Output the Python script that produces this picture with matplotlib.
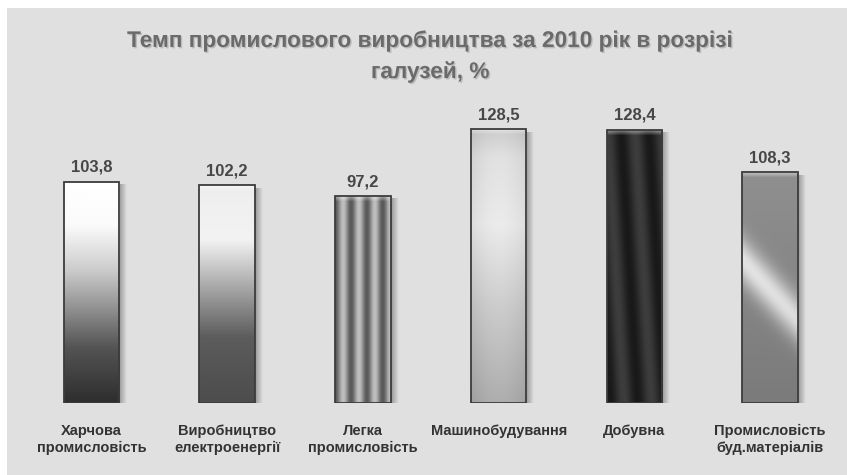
import numpy as np
import matplotlib
matplotlib.use('Agg')
import matplotlib.pyplot as plt
from matplotlib.patches import Rectangle
import matplotlib.patheffects as pe

# data: industrial production growth rate, 2010, %
categories = ['Харчова\nпромисловість', 'Виробництво\nелектроенергії',
              'Легка\nпромисловість', 'Машинобудування', 'Добувна',
              'Промисловість\nбуд.матеріалів']
values = [103.8, 102.2, 97.2, 128.5, 128.4, 108.3]
value_labels = ['103,8', '102,2', '97,2', '128,5', '128,4', '108,3']
title = 'Темп промислового виробництва за 2010 рік в розрізі\nгалузей, %'

font = ['Liberation Sans Narrow', 'Liberation Sans', 'DejaVu Sans']


# texture generators, u: left->right, v: top->bottom (both 0..1)
def tex_food(u, v):
    return np.interp(v, [0, 0.2, 0.4, 0.55, 0.75, 1], [1, 0.98, 0.8, 0.6, 0.33, 0.18])

def tex_energy(u, v):
    return np.interp(v, [0, 0.25, 0.4, 0.55, 0.7, 1], [0.93, 0.95, 0.75, 0.55, 0.36, 0.3])

def tex_light(u, v):
    return 0.55 + 0.2 * np.cos(2 * np.pi * 3.5 * u + np.pi) + 0 * v

def tex_machine(u, v):
    base = np.interp(v, [0, 0.1, 0.35, 0.65, 1], [0.8, 0.88, 0.92, 0.8, 0.68])
    return base - 0.06 * (np.abs(u - 0.5) * 2) ** 2

def tex_mining(u, v):
    return 0.1 + 0.14 * (0.5 + 0.5 * np.cos(2 * np.pi * 2 * (u - 0.3 * v)))

def tex_build(u, v):
    base = np.interp(v, [0, 1], [0.56, 0.48])
    band = np.exp(-((v - (0.38 + 0.26 * u)) / 0.1) ** 2)
    return base + 0.36 * band

textures = [tex_food, tex_energy, tex_light, tex_machine, tex_mining, tex_build]

W, H = 847, 475
fig = plt.figure(figsize=(W / 100, H / 100), dpi=100)
fig.patch.set_facecolor('white')
fig.patches.append(Rectangle((7 / W, 0), 1, (H - 8) / H, transform=fig.transFigure,
                             facecolor='#e0e0e0', edgecolor='none', zorder=-5))

ax = fig.add_axes([23.5 / W, 72 / H, (838 - 23.5) / W, (403 - 104.8) / H])
ax.set_facecolor('none')
ax.set_xlim(-0.5, len(values) - 0.5)
ax.set_ylim(0, 140)
ax.axis('off')

xs = np.arange(len(values))
bars = ax.bar(xs, values, 0.41, facecolor='none', edgecolor='#3c3c3c', lw=1.3, zorder=4)

# pixel size in data units
px_x = (len(values)) / (838 - 23.5)
px_y = 140 / (403 - 104.8)

uu, vv = np.meshgrid(np.linspace(0, 1, 80), np.linspace(0, 1, 300))
for bar, tex, lab in zip(bars, textures, value_labels):
    x0, w, h = bar.get_x(), bar.get_width(), bar.get_height()

    # soft shadow on the right
    sh = np.zeros((10, 40, 4))
    sh[..., :3] = 0.35
    sh[..., 3] = np.linspace(0.55, 0, 40)[None, :]
    ax.imshow(sh, extent=(x0 + w, x0 + w + 8 * px_x, 0, h - 3 * px_y),
              aspect='auto', interpolation='bilinear', zorder=1)

    img = np.clip(tex(uu, vv), 0, 1)
    im = ax.imshow(img, cmap='gray', vmin=0, vmax=1, extent=(x0, x0 + w, 0, h),
                   aspect='auto', interpolation='bilinear', zorder=2)
    im.set_clip_path(bar)

    # soft bevel at the top
    bev = np.zeros((6, 2, 4))
    bev[..., :3] = 1
    bev[..., 3] = np.linspace(0.45, 0, 6)[:, None]
    ax.imshow(bev, extent=(x0, x0 + w, h - 6 * px_y, h), aspect='auto',
              interpolation='bilinear', zorder=3)

    ax.annotate(lab, (x0 + w / 2, h), xytext=(0, 5), textcoords='offset points',
                ha='center', va='bottom', fontsize=12, color='#474747',
                family=font, fontweight='bold')

for x, c in zip(xs, categories):
    ax.annotate(c, (x, 0), xytext=(0, -15), textcoords='offset points',
                ha='center', va='top', fontsize=10.5, color='#333333',
                family=font, fontweight='bold', linespacing=1.25, annotation_clip=False)

fig.text(0.508, 1 - 56 / H, title, ha='center', va='center', fontsize=16.3,
         color='#6a6a6a', family=font, fontweight='bold', linespacing=1.45,
         path_effects=[pe.withSimplePatchShadow(offset=(1, -1), shadow_rgbFace='#999999', alpha=0.5)])

fig.savefig('out.png', dpi=100)
